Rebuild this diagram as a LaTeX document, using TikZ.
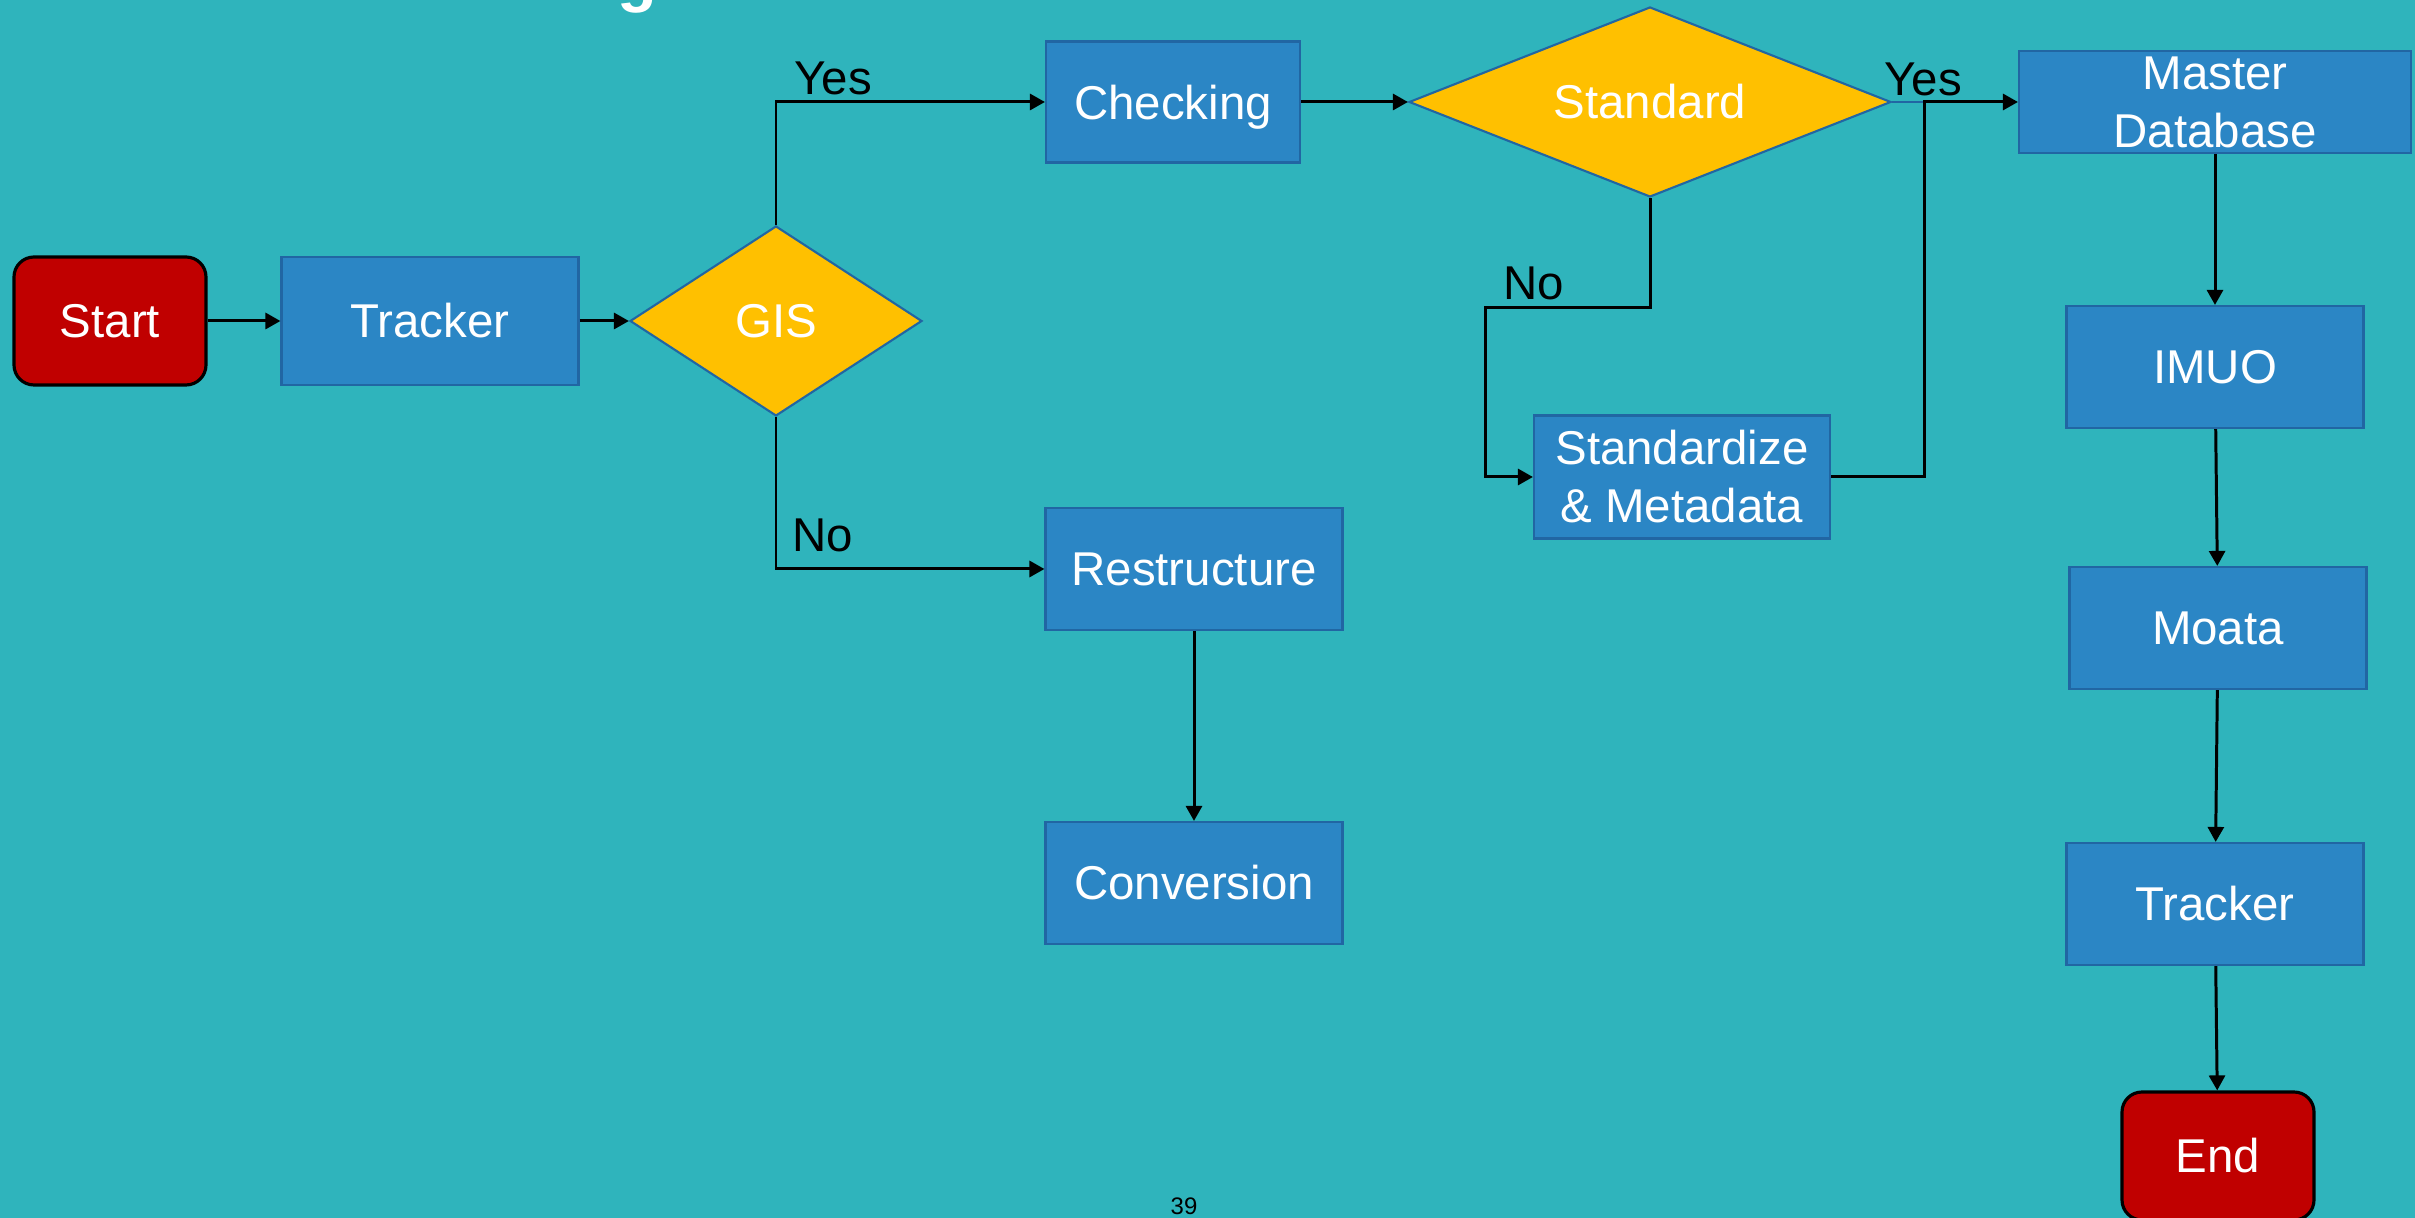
\documentclass[tikz,border=0pt]{standalone}
\usepackage{fontspec}
\setmainfont{Liberation Sans}
\usetikzlibrary{shapes.geometric,arrows.meta}
\definecolor{bgteal}{HTML}{2FB4BC}
\definecolor{boxblue}{HTML}{2B86C5}
\definecolor{edgeblue}{HTML}{2166A3}
\definecolor{decgold}{HTML}{FFC000}
\definecolor{termred}{HTML}{C00000}
\newcommand{\flowfont}{\fontsize{13.5}{16.5}\selectfont}

\begin{document}
\begin{tikzpicture}[
    proc/.style={rectangle, draw=edgeblue, line width=0.6pt, fill=boxblue, text=white,
        minimum width=2.97cm, minimum height=1.22cm, inner sep=0pt, align=center, font=\flowfont},
    dec/.style={diamond, draw=edgeblue, line width=0.6pt, fill=decgold, text=white,
        inner sep=0pt, font=\flowfont},
    term/.style={rectangle, rounded corners=0.2cm, draw=black, line width=0.9pt, fill=termred,
        text=white, minimum width=1.92cm, minimum height=1.28cm, inner sep=0pt, font=\flowfont},
    lbl/.style={inner sep=0pt, text=black, font=\flowfont},
    flow/.style={-{Triangle[length=1.5mm, width=1.6mm]}, line width=0.85pt}
]
    % --- Background ---
    \fill[bgteal] (0, 0) rectangle (24.15, 12.18);
    \begin{scope}
        \clip (0, 0) rectangle (24.15, 12.18);
        \node[anchor=base, inner sep=0pt, text=white, font=\fontsize{18.5}{22}\selectfont\bfseries] (ttl) at (6.37, 12.18) {g};
    \end{scope}

    % --- Left branch ---
    \node[term] (start) at (1.10, 8.97) {Start};
    \node[proc, minimum height=1.28cm] (trk) at (4.30, 8.97) {Tracker};
    \node[dec, aspect=1.54, minimum width=2.92cm, minimum height=1.90cm] (gis) at (7.76, 8.97) {GIS};
    \node[proc, minimum width=2.54cm, minimum height=1.21cm, text depth=0pt] (chk) at (11.73, 11.16) {Checking};
    \node[proc] (rst) at (11.94, 6.49) {Restructure};
    \node[proc] (conv) at (11.94, 3.35) {Conversion};

    \draw[flow] (start) -- (trk);
    \draw[flow] (trk) -- (gis);
    \draw[flow] (gis.north) |- (chk.west);
    \draw[flow] (gis.south) |- (rst.west);
    \draw[flow] (rst) -- (conv);

    \node[lbl] (yes1) at (8.33, 11.40) {Yes};
    \node[lbl] (no1) at (8.23, 6.83) {No};

    % --- Right column ---
    \node[proc, minimum width=3.92cm, minimum height=1.02cm] (mdb) at (22.15, 11.16) {Master\\Database};
    \node[proc] (imuo) at (22.15, 8.51) {IMUO};
    \node[proc] (moata) at (22.18, 5.90) {Moata};
    \node[proc] (trk2) at (22.15, 3.14) {Tracker};
    \node[term] (end) at (22.18, 0.62) {End};

    \draw[flow] (mdb) -- (imuo);
    \draw[flow] (imuo) -- (moata);
    \draw[flow] (moata) -- (trk2);
    \draw[flow] (trk2) -- (end);

    % --- Standard check ---
    \node[dec, aspect=2.54, minimum width=4.82cm, minimum height=1.90cm] (std) at (16.50, 11.16) {Standard};
    \node[proc, minimum width=2.96cm, minimum height=1.23cm] (stdm) at (16.82, 7.41) {Standardize\\\& Metadata};
    \coordinate (nb) at (14.85, 9.10);
    \coordinate (yj) at (19.24, 11.16);

    \draw[flow] (chk) -- (std);
    \draw[flow] (std.south) |- (nb) |- (stdm.west);
    \draw[edgeblue, line width=0.6pt] (std.east) -- (yj);
    \draw[flow] (stdm.east) -| (yj) -- (mdb.west);

    \node[lbl] (yes2) at (19.23, 11.39) {Yes};
    \node[lbl] (no2) at (15.34, 9.35) {No};

    \node[inner sep=0pt, font=\fontsize{6.8}{8}\selectfont] (pg) at (11.84, 0.12) {39};

    % Bounding box for the slide
    \pgfresetboundingbox
    \useasboundingbox (0, 0) rectangle (24.15, 12.18);
\end{tikzpicture}
\end{document}
